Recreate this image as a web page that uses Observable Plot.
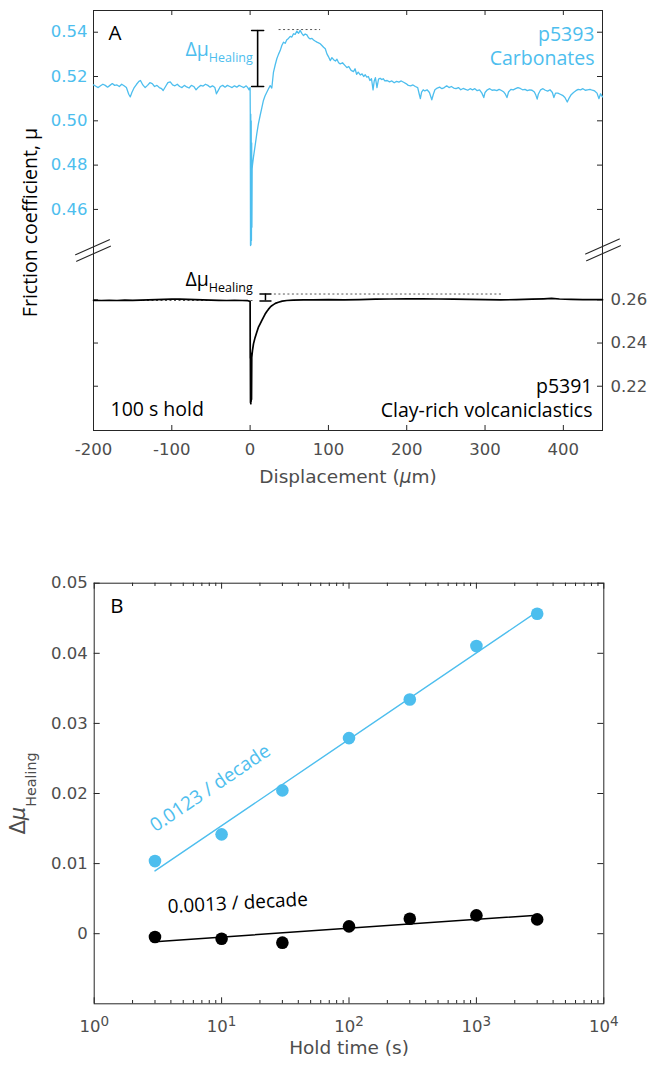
<!DOCTYPE html>
<html><head><meta charset="utf-8">
<script src="https://cdn.jsdelivr.net/npm/d3@7"></script>
<script src="https://cdn.jsdelivr.net/npm/@observablehq/plot@0.6"></script>
<style>
body{margin:0;background:#fff;}
#wrap{position:relative;width:648px;height:1067px;overflow:hidden;}
#wrap svg{position:absolute;left:0;}
</style></head><body><div id="wrap"></div>
<script>
// ---------------- DATA ----------------
// Panel A, p5393 Carbonates (displacement µm, friction µ)
const blueX = [-200,-197,-194,-191,-188,-185,-182,-179,-176,-173,-170,-167,-164,-161,-158,-155,-153,-151,-148,-145,-142,-140,-137,-134,-131,-128,-125,-122,-119,-116,-113,-111,-108,-105,-102,-99,-96,-93,-90,-87,-84,-81,-78,-75,-72,-69,-66,-63,-60,-57,-54,-51,-48,-45,-43,-41,-38,-35,-32,-29,-26,-23,-20,-17,-14,-11,-8,-5,-3,-1.5,-0.5,0,0.2,0.5,0.8,1.1,1.4,1.7,2.0,2.3,2.6,3,4.3,6.5,8.5,10.5,12.8,15,17,19,21.3,23.5,25.6,27.7,29.8,32,34.1,36.2,38.4,40.5,42.6,44.8,46.9,49,51.2,53.3,55.4,57.5,59.7,61.8,63.9,66,68.2,70.3,72.5,74.6,76.7,79,81,83,85.3,87.4,89.5,91.7,93.8,96,98.1,100,102.3,104.5,106.6,109,110.9,113,115.1,118,121,123.6,126,129,132,134,136,138,140.7,143,145,147,149,151,153,155,157,158.5,160,162,164,166,168,170,172,175,178,181,184,187,190,193,196,199,202,205,208,211,214,216,217.4,219,221,223,226,229,232,234,236,239,242,245,248,251,254,257,260,263,266,269,272,275,278,281,284,287,290,293,296,298.4,300,303,306,309,312,315,318,321,324,326,328,330,333,336,339,342,345,348,351,354,357,360,363,365,366.6,368,371,374,377,380,383,386,387.9,390,393,396,399,402,405,407,410,413,416,419,422,425,428,431,434,437,440,443,445.5,447.5,450];
const blueMu = [.5162,.5156,.5150,.5158,.5165,.5160,.5152,.5160,.5168,.5160,.5162,.5155,.5165,.5158,.5150,.5120,.5108,.5128,.5150,.5165,.5178,.5182,.5162,.5150,.5160,.5172,.5168,.5155,.5160,.5150,.5145,.5137,.5155,.5172,.5176,.5162,.5158,.5165,.5155,.5150,.5160,.5153,.5148,.5160,.5155,.5140,.5152,.5160,.5157,.5165,.5160,.5152,.5158,.5150,.5122,.5135,.5155,.5160,.5152,.5160,.5155,.5150,.5158,.5152,.5160,.5155,.5150,.5158,.5150,.5140,.5148,.5150,.5032,.4437,.5030,.4440,.5000,.4460,.4900,.4520,.4783,.4800,.4836,.4890,.4941,.4985,.5024,.5060,.5092,.5112,.5129,.5145,.5159,.5148,.5219,.5252,.5280,.5300,.5317,.5340,.5355,.5350,.5366,.5372,.5381,.5378,.5393,.5390,.5405,.5395,.5408,.5395,.5385,.5392,.5388,.5375,.5370,.5372,.5365,.5360,.5355,.5352,.5348,.5340,.5332,.5325,.5302,.5290,.5272,.5285,.5276,.5270,.5278,.5262,.5257,.5262,.5250,.5240,.5245,.5228,.5222,.5235,.5210,.5220,.5207,.5212,.5200,.5208,.5197,.5200,.5182,.5190,.5140,.5180,.5195,.5150,.5188,.5192,.5186,.5190,.5180,.5182,.5176,.5180,.5172,.5178,.5175,.5180,.5174,.5168,.5160,.5158,.5162,.5155,.5150,.5120,.5100,.5130,.5140,.5135,.5140,.5128,.5095,.5120,.5140,.5148,.5152,.5145,.5150,.5158,.5150,.5155,.5148,.5145,.5150,.5140,.5146,.5142,.5138,.5145,.5140,.5145,.5136,.5140,.5125,.5105,.5128,.5140,.5145,.5138,.5140,.5136,.5142,.5137,.5130,.5120,.5105,.5130,.5142,.5140,.5145,.5150,.5146,.5140,.5142,.5136,.5140,.5138,.5130,.5115,.5098,.5120,.5140,.5145,.5138,.5134,.5140,.5128,.5105,.5125,.5125,.5120,.5115,.5105,.5085,.5100,.5118,.5128,.5136,.5142,.5140,.5145,.5138,.5140,.5142,.5138,.5135,.5125,.5100,.5122,.5108];

// Panel A, p5391 Clay-rich volcaniclastics
const blackX = [-200,-190,-180,-170,-160,-150,-140,-130,-120,-110,-100,-90,-80,-70,-60,-50,-40,-30,-20,-10,-3,-1,0,0.15,0.3,0.5,0.7,0.9,1.1,1.3,1.5,1.8,2.1,3,4.3,6.3,8.5,10.5,12.8,15,17,19,21.3,23.5,25.6,27.7,29.8,33,36.2,41,46.9,55,68.2,80,100,120,140,160,180,200,220,240,260,280,300,320,340,360,375,385,395,410,425,440,450];
const blackMu = [.2598,.2597,.2598,.2597,.2599,.2598,.2599,.2600,.2601,.2602,.2603,.2603,.2602,.2601,.2600,.2599,.2598,.2597,.2598,.2597,.2596,.2594,.2592,.2330,.2360,.2125,.2350,.2119,.2345,.2130,.2340,.2140,.2334,.2365,.2396,.2425,.2450,.2472,.2489,.2505,.2519,.2533,.2546,.2557,.2566,.2573,.2578,.2585,.2589,.2594,.2597,.2599,.2600,.2600,.2601,.2600,.2601,.2603,.2604,.2605,.2605,.2604,.2603,.2602,.2601,.2600,.2601,.2603,.2605,.2607,.2604,.2602,.2601,.2601,.2601];

// Healing markers (panel A)
const blueHeal = {x: 9.6, lo: 0.5155, hi: 0.5408};
const bluePeakLine = {x1: 37, x2: 90, y: 0.5412};
const blackHeal = {x: 19.6, lo: 0.2595, hi: 0.2627};
const blackPeakLine = {x1: 31, x2: 322, y: 0.2627};
const blackBaseLine = {x1: -200, x2: 5, y: 0.2597};

// Axis ticks panel A
const xTicksA = [-200,-100,0,100,200,300,400];
const blueTicks = [0.46,0.48,0.50,0.52,0.54];
const blackTicks = [0.22,0.24,0.26];

// Panel B
const holdTime = [3,10,30,100,300,1000,3000];
const dmuCarb = [0.01036,0.01417,0.02044,0.0279,0.03342,0.04103,0.04565];
const dmuClay = [-0.00048,-0.00071,-0.00128,0.00104,0.00214,0.00261,0.00204];
const xMajorB = [1,10,100,1000,10000];
const xMinorB = [2,3,4,5,6,7,8,9,20,30,40,50,60,70,80,90,200,300,400,500,600,700,800,900,2000,3000,4000,5000,6000,7000,8000,9000];
const yTicksB = [0,0.01,0.02,0.03,0.04,0.05];

// ---------------- STYLE ----------------
const BLUE = "#4DBEEE", AX = "#262626", TL = "#4d4d4d";
const TF = "DejaVu Sans, sans-serif";
const AF = "Open Sans, sans-serif";

const wrap = document.getElementById("wrap");

// ---------------- PANEL A ----------------
const A = {w: 648, h: 500, mt: 10, mr: 46, mb: 70, ml: 93};
const iwA = A.w - A.ml - A.mr, ihA = A.h - A.mt - A.mb;
const dimsA = {width: A.w, height: A.h, marginTop: A.mt, marginRight: A.mr, marginBottom: A.mb, marginLeft: A.ml};
const blueData = blueX.map((x, i) => ({x, y: blueMu[i]}));
const blackData = blackX.map((x, i) => ({x, y: blackMu[i]}));

const brk = {stroke: AX, strokeWidth: 1.1, r: 0, length: 37, rotate: 66, anchor: "middle"};

const plotA1 = Plot.plot({
  ...dimsA,
  x: {domain: [-200, 450]},
  y: {domain: [0.3602, 0.5498]},
  marks: [
    Plot.frame({stroke: AX}),
    Plot.tickX(xTicksA, {x: d => d, stroke: AX, insetTop: ihA - 5}),
    Plot.tickX(xTicksA, {x: d => d, stroke: AX, insetBottom: ihA - 5}),
    Plot.tickY(blueTicks, {y: d => d, stroke: AX, insetRight: iwA - 5}),
    Plot.tickY(blueTicks, {y: d => d, stroke: AX, insetLeft: iwA - 5}),
    Plot.axisX(xTicksA, {tickSize: 0, tickPadding: 13, tickFormat: d => String(d), fontSize: 16.5, fontFamily: TF, color: TL, label: null}),
    Plot.axisY(blueTicks, {anchor: "left", tickSize: 0, tickPadding: 6, tickFormat: d => d.toFixed(2), fontSize: 16.5, fontFamily: TF, color: BLUE, label: null}),
    Plot.ruleY([bluePeakLine], {y: "y", x1: "x1", x2: "x2", stroke: "#555", strokeWidth: 1, strokeDasharray: "2,2.5"}),
    Plot.line(blueData, {x: "x", y: "y", stroke: BLUE, strokeWidth: 1.3}),
    Plot.ruleX([blueHeal], {x: "x", y1: "lo", y2: "hi", stroke: "black", strokeWidth: 1.6}),
    Plot.vector([blueHeal], {x: "x", y: "lo", rotate: 90, length: 12, r: 0, anchor: "middle", stroke: "black", strokeWidth: 1.6}),
    Plot.vector([blueHeal], {x: "x", y: "hi", rotate: 90, length: 12, r: 0, anchor: "middle", stroke: "black", strokeWidth: 1.6}),
    Plot.text(["A"], {text: d => d, frameAnchor: "top-left", dx: 15, dy: 14.5, lineAnchor: "top", textAnchor: "start", fontSize: 20.5, fontFamily: AF, fill: "black"}),
    Plot.text(["Δμ_Healing"], {text: d => d, frameAnchor: "top-left", dx: 92, dy: 45, lineAnchor: "bottom", textAnchor: "start", fontSize: 19.5, fontFamily: AF, fill: BLUE}),
    Plot.text(["p5393"], {text: d => d, frameAnchor: "top-right", dx: -8, dy: 30, lineAnchor: "bottom", textAnchor: "end", fontSize: 19.5, fontFamily: AF, fill: BLUE}),
    Plot.text(["Carbonates"], {text: d => d, frameAnchor: "top-right", dx: -8, dy: 54.5, lineAnchor: "bottom", textAnchor: "end", fontSize: 19.5, fontFamily: AF, fill: BLUE}),
    Plot.text(["Friction coefficient, μ"], {text: d => d, frameAnchor: "left", rotate: -90, dx: -70, dy: 2, lineAnchor: "top", textAnchor: "middle", fontSize: 19.5, fontFamily: AF, fill: "black"}),
    Plot.text(["Displacement (μm)"], {text: d => d, frameAnchor: "bottom", dy: 52, lineAnchor: "bottom", textAnchor: "middle", fontSize: 18.5, fontFamily: TF, fill: TL}),
    Plot.vector([0], {...brk, frameAnchor: "left", dx: -1, dy: 26.7}),
    Plot.vector([0], {...brk, frameAnchor: "left", dx: 0, dy: 33.2}),
    Plot.vector([0], {...brk, frameAnchor: "right", dx: 0, dy: 26}),
    Plot.vector([0], {...brk, frameAnchor: "right", dx: 1, dy: 32.7})
  ]
});

const plotA2 = Plot.plot({
  ...dimsA,
  x: {domain: [-200, 450], axis: null},
  y: {domain: [0.1995, 0.394]},
  marks: [
    Plot.tickY(blackTicks, {y: d => d, stroke: AX, insetRight: iwA - 5}),
    Plot.tickY(blackTicks, {y: d => d, stroke: AX, insetLeft: iwA - 5}),
    Plot.axisY(blackTicks, {anchor: "right", tickSize: 0, tickPadding: 8, tickFormat: d => d.toFixed(2), fontSize: 16.5, fontFamily: TF, color: TL, label: null}),
    Plot.ruleY([blackBaseLine], {y: "y", x1: "x1", x2: "x2", stroke: "#555", strokeWidth: 1, strokeDasharray: "2,2.5"}),
    Plot.ruleY([blackPeakLine], {y: "y", x1: "x1", x2: "x2", stroke: "#555", strokeWidth: 1, strokeDasharray: "2,2.5"}),
    Plot.line(blackData, {x: "x", y: "y", stroke: "black", strokeWidth: 1.7}),
    Plot.ruleX([blackHeal], {x: "x", y1: "lo", y2: "hi", stroke: "black", strokeWidth: 1.5}),
    Plot.vector([blackHeal], {x: "x", y: "lo", rotate: 90, length: 11, r: 0, anchor: "middle", stroke: "black", strokeWidth: 1.5}),
    Plot.vector([blackHeal], {x: "x", y: "hi", rotate: 90, length: 11, r: 0, anchor: "middle", stroke: "black", strokeWidth: 1.5}),
    Plot.text(["Δμ_Healing"], {text: d => d, frameAnchor: "top-left", dx: 92, dy: 275, lineAnchor: "bottom", textAnchor: "start", fontSize: 19.5, fontFamily: AF, fill: "black"}),
    Plot.text(["p5391"], {text: d => d, frameAnchor: "bottom-right", dx: -10, dy: -38, lineAnchor: "bottom", textAnchor: "end", fontSize: 19.5, fontFamily: AF, fill: "black"}),
    Plot.text(["Clay-rich volcaniclastics"], {text: d => d, frameAnchor: "bottom-right", dx: -10, dy: -13.5, lineAnchor: "bottom", textAnchor: "end", fontSize: 19.5, fontFamily: AF, fill: "black"}),
    Plot.text(["100 s hold"], {text: d => d, frameAnchor: "bottom-left", dx: 17, dy: -15, lineAnchor: "bottom", textAnchor: "start", fontSize: 19.5, fontFamily: AF, fill: "black"})
  ]
});

// ---------------- PANEL B ----------------
const B = {top: 500, w: 648, h: 567, mt: 82.7, mr: 44.7, mb: 63.7, ml: 93.7};
const iwB = B.w - B.ml - B.mr, ihB = B.h - B.mt - B.mb;

function fitLine(xs, ys) {
  const lx = xs.map(Math.log10);
  const mx = d3.mean(lx), my = d3.mean(ys);
  const slope = d3.sum(lx, (v, i) => (v - mx) * (ys[i] - my)) / d3.sum(lx, v => (v - mx) ** 2);
  return [xs[0], xs[xs.length - 1]].map(x => ({x, y: my + slope * (Math.log10(x) - mx)}));
}
const carbPts = holdTime.map((t, i) => ({t, v: dmuCarb[i]}));
const clayPts = holdTime.map((t, i) => ({t, v: dmuClay[i]}));
const carbFit = fitLine(holdTime, dmuCarb);
const clayFit = fitLine(holdTime, dmuClay);

const plotB = Plot.plot({
  width: B.w, height: B.h, marginTop: B.mt, marginRight: B.mr, marginBottom: B.mb, marginLeft: B.ml,
  x: {type: "log", domain: [1, 10000]},
  y: {domain: [-0.01, 0.05]},
  marks: [
    Plot.frame({stroke: AX}),
    Plot.tickX(xMajorB, {x: d => d, stroke: AX, insetTop: ihB - 6}),
    Plot.tickX(xMajorB, {x: d => d, stroke: AX, insetBottom: ihB - 6}),
    Plot.tickX(xMinorB, {x: d => d, stroke: AX, insetTop: ihB - 3.3}),
    Plot.tickX(xMinorB, {x: d => d, stroke: AX, insetBottom: ihB - 3.3}),
    Plot.tickY(yTicksB, {y: d => d, stroke: AX, insetRight: iwB - 6}),
    Plot.tickY(yTicksB, {y: d => d, stroke: AX, insetLeft: iwB - 6}),
    Plot.axisX(xMajorB, {tickSize: 0, tickPadding: 16, tickFormat: d => "10^" + Math.round(Math.log10(d)), fontSize: 16.5, fontFamily: TF, color: TL, label: null}),
    Plot.axisY(yTicksB, {anchor: "left", tickSize: 0, tickPadding: 6.4, tickFormat: d => d === 0 ? "0" : d.toFixed(2), fontSize: 16.5, fontFamily: TF, color: TL, label: null}),
    Plot.line(carbFit, {x: "x", y: "y", stroke: BLUE, strokeWidth: 1.4}),
    Plot.line(clayFit, {x: "x", y: "y", stroke: "black", strokeWidth: 1.5}),
    Plot.dot(carbPts, {x: "t", y: "v", r: 6.3, fill: BLUE}),
    Plot.dot(clayPts, {x: "t", y: "v", r: 6.3, fill: "black"}),
    Plot.text(["B"], {text: d => d, frameAnchor: "top-left", dx: 16, dy: 14.8, lineAnchor: "top", textAnchor: "start", fontSize: 20.5, fontFamily: AF, fill: "black"}),
    Plot.text(["0.0123 / decade"], {text: d => d, frameAnchor: "top-left", dx: 116, dy: 205, rotate: -34, lineAnchor: "middle", textAnchor: "middle", fontSize: 19, fontFamily: AF, fill: BLUE}),
    Plot.text(["0.0013 / decade"], {text: d => d, frameAnchor: "top-left", dx: 143.5, dy: 320, rotate: -3, lineAnchor: "middle", textAnchor: "middle", fontSize: 19, fontFamily: AF, fill: "black"}),
    Plot.text(["Hold time (s)"], {text: d => d, frameAnchor: "bottom", dy: 50.5, lineAnchor: "bottom", textAnchor: "middle", fontSize: 18.5, fontFamily: TF, fill: TL}),
    Plot.text(["Δμ Healing"], {text: d => d, frameAnchor: "left", rotate: -90, dx: -83.7, dy: 0, lineAnchor: "top", textAnchor: "middle", fontSize: 21, fontFamily: TF, fill: TL})
  ]
});

// ---------------- rich text ----------------
function rich(svg) {
  d3.select(svg).selectAll("text").each(function () {
    const t = this.textContent;
    const s = d3.select(this);
    let m;
    if (t === "Δμ_Healing") {
      s.text(null);
      s.append("tspan").text("Δμ");
      s.append("tspan").attr("font-size", "0.64em").attr("dy", "0.5em").text("Healing");
    } else if (t === "Δμ Healing") {
      s.text(null);
      s.append("tspan").text("Δ");
      s.append("tspan").attr("font-style", "italic").text("μ");
      s.append("tspan").attr("font-size", "0.68em").attr("dy", "0.75em").text("Healing");
    } else if (t === "Displacement (μm)") {
      s.text(null);
      s.append("tspan").text("Displacement (");
      s.append("tspan").attr("font-style", "italic").text("μ");
      s.append("tspan").text("m)");
    } else if ((m = /^10\^(-?\d+)$/.exec(t))) {
      s.text(null);
      s.append("tspan").text("10");
      s.append("tspan").attr("font-size", "0.82em").attr("dy", "-0.42em").text(m[1]);
    }
  });
}

for (const [svg, top] of [[plotA1, 0], [plotA2, 0], [plotB, B.top]]) {
  rich(svg);
  svg.style.position = "absolute";
  svg.style.top = top + "px";
  svg.style.left = "0px";
  svg.style.background = "none";
  svg.style.overflow = "visible";
  wrap.appendChild(svg);
}
</script>
</body></html>
